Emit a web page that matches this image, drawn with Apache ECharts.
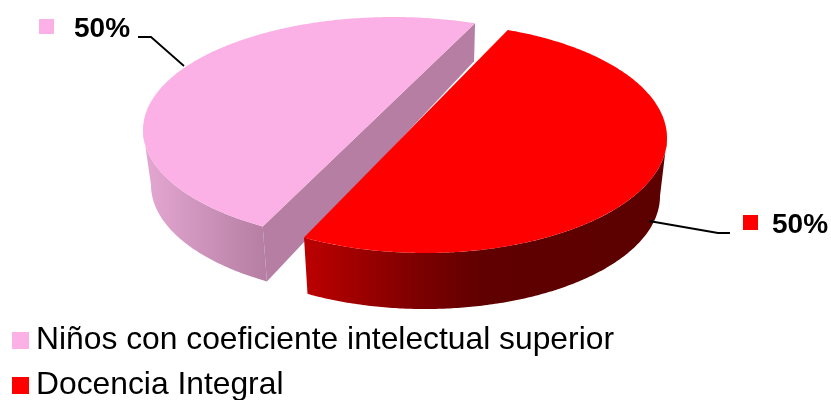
<!DOCTYPE html>
<html><head><meta charset="utf-8">
<style>html,body{margin:0;padding:0;background:#fff}#c{width:831px;height:400px}</style>
<script src="https://cdn.jsdelivr.net/npm/echarts@6/dist/echarts.min.js"></script>
</head><body><div id="c"></div>
<script>
const categories = ['Niños con coeficiente intelectual superior', 'Docencia Integral'];
const values = [50, 50];
const colors = ['#FBB1E6', '#FF0000'];

const total = values.reduce((a, b) => a + b, 0);
// Perspective layout of each slice: top ellipse, bottom ellipse, angles in degrees (screen, clockwise).
const layouts = [
  { top:{x:393,y:130,rx:250,ry:113}, bot:{x:393,y:185,rx:242,ry:113}, start:121.4, stretch:0.932,
    sideFrom:121.4, sideTo:180, backDepth:38,
    sideGrad:[150,266,[[0,'#E2A5D0'],[1,'#B57EA2']]], face:'#B57EA2',
    label:{sq:[39,19],text:[74,29],line:[[138,37],[151,37],[184,66]]} },
  { top:{x:425,y:138,rx:242,ry:115}, bot:{x:425,y:196,rx:235,ry:113}, start:-70, stretch:1.0556,
    sideFrom:0, sideTo:120, backDepth:0,
    sideGrad:[305,660,[[0,'#BC0000'],[0.3,'#800000'],[0.5,'#600000'],[1,'#5C0000']]], face:null,
    label:{sq:[743,215],text:[772,225],line:[[649,221],[718,233],[730,233]]} }
];

function arc(e, a0, a1) {
  const n = Math.max(2, Math.ceil(Math.abs(a1 - a0) * 1.5)), pts = [];
  for (let i = 0; i <= n; i++) {
    const t = (a0 + (a1 - a0) * i / n) * Math.PI / 180;
    pts.push([e.x + e.rx * Math.cos(t), e.y + e.ry * Math.sin(t)]);
  }
  return pts;
}

function renderSlice(idx) {
  return function (params, api) {
    const v = api.value(0), L = layouts[idx];
    const sweep = v / total * 360 * L.stretch;
    const end = L.start + sweep;
    const topArc = arc(L.top, L.start, end);
    const children = [];
    const g = L.sideGrad;
    const fill = new echarts.graphic.LinearGradient(g[0], 0, g[1], 0,
      g[2].map(s => ({ offset: s[0], color: s[1] })), true);
    if (idx === 1) {
      const side = arc(L.top, L.sideFrom, L.sideTo).concat(arc(L.bot, L.sideFrom, L.sideTo).reverse());
      children.push({ type:'polygon', shape:{points:side}, style:{fill:fill} });
    } else {
      const a = topArc[0], b = topArc[topArc.length - 1];
      const botA = arc(L.bot, L.start, L.start)[0];
      const face = [b, a, botA, [b[0] - 1, b[1] + L.backDepth]];
      children.push({ type:'polygon', shape:{points:face}, style:{fill:L.face} });
      const side = arc(L.top, L.sideTo, L.sideFrom).concat(arc(L.bot, L.sideFrom, L.sideTo));
      children.push({ type:'polygon', shape:{points:side}, style:{fill:fill} });
    }
    children.push({ type:'polygon', shape:{points:topArc}, style:{fill:colors[idx]} });
    const lb = L.label;
    children.push({ type:'polyline', shape:{points:lb.line}, style:{stroke:'#000', lineWidth:1.8, fill:null} });
    children.push({ type:'rect', shape:{x:lb.sq[0], y:lb.sq[1], width:15, height:15}, style:{fill:colors[idx]} });
    children.push({ type:'text', x:lb.text[0], y:lb.text[1], style:{
      text: Math.round(v / total * 100) + '%', fill:'#000',
      font:'bold 28px "Liberation Sans", Arial, sans-serif', textAlign:'left', textVerticalAlign:'middle' } });
    return { type:'group', children:children };
  };
}

const chart = echarts.init(document.getElementById('c'), null, { renderer:'canvas' });
chart.setOption({
  animation:false,
  backgroundColor:'#fff',
  legend:{
    orient:'vertical', left:12, top:324, height:120, padding:0, itemGap:12,
    itemWidth:17, itemHeight:17, icon:'rect', selectedMode:false,
    textStyle:{ fontFamily:'"Liberation Sans", Arial, sans-serif', fontSize:31.8, color:'#000', lineHeight:33, padding:[0,0,0,2] },
    data:categories
  },
  series: categories.map((name, i) => ({
    type:'custom', name:name, coordinateSystem:'none', silent:true,
    itemStyle:{ color:colors[i] },
    z:2 + i,
    renderItem:renderSlice(i),
    data:[[values[i]]]
  }))
});
</script></body></html>
